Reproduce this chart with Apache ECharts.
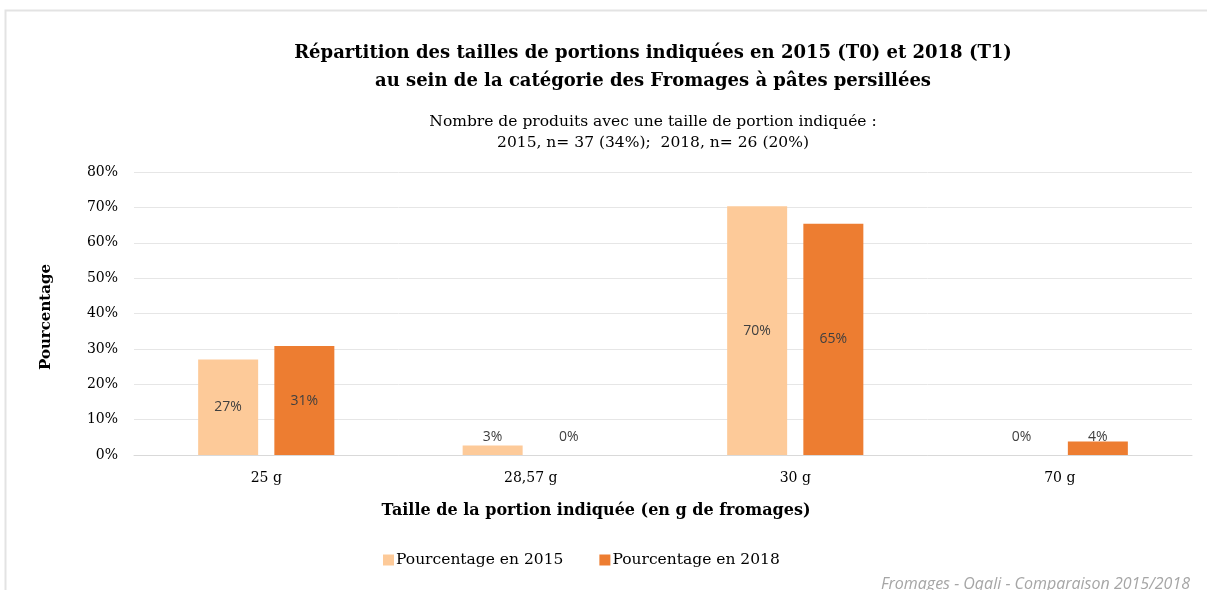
<!DOCTYPE html>
<html>
<head>
<meta charset="utf-8">
<script src="https://cdn.jsdelivr.net/npm/echarts@6/dist/echarts.min.js"></script>
<style>
  html, body { margin: 0; padding: 0; background: #fff; }
  #chart { width: 1207px; height: 590px; }
</style>
</head>
<body>
<div id="chart"></div>
<script>
    // portion sizes (x axis)
    const portions = ['25 g', '28,57 g', '30 g', '70 g']
    // percentages per year (share of products with a given portion)
    const pct2015 = [27.0, 2.7, 70.3, 0]
    const pct2018 = [30.8, 0, 65.4, 3.8]
    const yTicks = [0, 10, 20, 30, 40, 50, 60, 70, 80]

    const serif = 'DejaVu Serif'
    const sans = 'Open Sans'

    const chart = echarts.init(document.getElementById('chart'))

    // big bars get the label inside, small ones sit just above the baseline
    function labelled(values) {
        return values.map(v => ({
            value: v,
            label: v > 10 ? { position: 'inside' } : { position: 'insideBottom', distance: 11 }
        }))
    }

    const barLabel = {
        show: true,
        fontFamily: sans,
        fontSize: 14,
        color: '#404040',
        formatter: p => Math.round(p.value) + '%'
    }

    chart.setOption({
        animation: false,
        title: [
            {
                text: 'Répartition des tailles de portions indiquées en 2015 (T0) et 2018 (T1)\nau sein de la catégorie des Fromages à pâtes persillées',
                top: 34,
                left: 648,
                textAlign: 'center',
                textStyle: { fontFamily: serif, fontWeight: 'bold', fontSize: 18, lineHeight: 28, color: '#000' }
            },
            {
                text: 'Nombre de produits avec une taille de portion indiquée :\n2015, n= 37 (34%);  2018, n= 26 (20%)',
                top: 106,
                left: 648,
                textAlign: 'center',
                textStyle: { fontFamily: serif, fontWeight: 'normal', fontSize: 15.5, lineHeight: 21, color: '#000' }
            },
            {
                text: 'Taille de la portion indiquée (en g de fromages)',
                top: 498,
                left: 591,
                textAlign: 'center',
                textStyle: { fontFamily: serif, fontWeight: 'bold', fontSize: 16, color: '#000' }
            },
            {
                text: 'Fromages - Oqali - Comparaison 2015/2018',
                right: 12,
                top: 571,
                textStyle: { fontFamily: sans, fontStyle: 'italic', fontWeight: 'normal', fontSize: 16, color: '#a6a6a6' }
            }
        ],
        graphic: [
            {
                type: 'rect',
                shape: { x: 5.5, y: 10.5, width: 1220, height: 620 },
                style: { fill: 'none', stroke: '#e3e3e3', lineWidth: 2 },
                silent: true
            }
        ],
        legend: {
            top: 547,
            left: 378,
            itemWidth: 11,
            itemHeight: 11,
            itemGap: 36,
            icon: 'rect',
            textStyle: { fontFamily: serif, fontSize: 15.5, color: '#000', padding: [0, 0, 0, -3] },
            data: ['Pourcentage en 2015', 'Pourcentage en 2018']
        },
        grid: {
            left: 134,
            right: 15,
            top: 172,
            bottom: 135
        },
        xAxis: {
            type: 'category',
            data: portions,
            axisLine: { lineStyle: { color: '#d9d9d9', width: 1 } },
            axisTick: { show: false },
            axisLabel: { fontFamily: serif, fontSize: 14, color: '#000', margin: 16 }
        },
        yAxis: {
            type: 'value',
            min: yTicks[0],
            max: yTicks[yTicks.length - 1],
            interval: 10,
            name: 'Pourcentage',
            nameLocation: 'middle',
            nameGap: 80,
            nameTextStyle: { fontFamily: serif, fontWeight: 'bold', fontSize: 15, color: '#000', padding: [0, 7, 0, 0] },
            axisLine: { show: false },
            axisTick: { show: false },
            axisLabel: { fontFamily: serif, fontSize: 14, color: '#000', margin: 16, formatter: '{value}%' },
            splitLine: { lineStyle: { color: '#e6e6e6', width: 1 } }
        },
        series: [
            {
                name: 'Pourcentage en 2015',
                type: 'bar',
                data: labelled(pct2015),
                barWidth: 60,
                barGap: '27%',
                itemStyle: { color: '#fdca99' },
                label: barLabel
            },
            {
                name: 'Pourcentage en 2018',
                type: 'bar',
                data: labelled(pct2018),
                barWidth: 60,
                itemStyle: { color: '#ed7d31' },
                label: barLabel
            }
        ]
    })
</script>
</body>
</html>
